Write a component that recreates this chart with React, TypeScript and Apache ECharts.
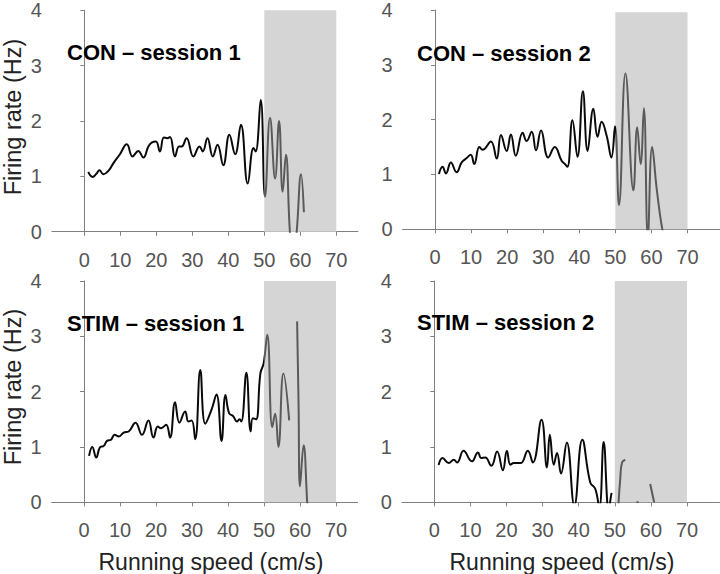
import React, { useEffect, useRef } from "react";
import * as echarts from "echarts";

// ---- data ----
const speedTicks = [0, 10, 20, 30, 40, 50, 60, 70];
const rateTicks = [0, 1, 2, 3, 4];
const highSpeedBand = [50, 70];
const panelTitles = ["CON – session 1", "CON – session 2", "STIM – session 1", "STIM – session 2"];

const con1Speed = [1.1, 2.3, 3.4, 4.2, 5.3, 6.7, 8.1, 9.9, 11.8, 13.4, 15.0, 16.4, 17.8, 18.7, 19.9, 21.0, 22.1, 23.1, 23.8, 25.2, 26.3, 27.05, 28.4, 30.3, 32.0, 32.9, 34.2, 35.7, 37.0, 38.6, 40.3, 41.9, 43.5, 45.4, 47.0, 47.6, 49.0, 50.2, 51.6, 53.0, 54.1, 55.1, 56.0, 57.1, 58.0, 59.0, 60.2, 61.0];
const con1Rate = [1.08, 0.99, 1.05, 1.11, 1.04, 1.10, 1.24, 1.40, 1.58, 1.36, 1.46, 1.34, 1.54, 1.61, 1.63, 1.45, 1.70, 1.69, 1.71, 1.36, 1.54, 1.54, 1.69, 1.36, 1.54, 1.45, 1.69, 1.36, 1.57, 1.20, 1.75, 1.40, 1.93, 0.87, 1.51, 1.45, 2.38, 0.63, 2.06, 0.96, 2.00, 0.72, 1.39, 0.0, -0.6, 0.0, 1.04, 0.35];

const con2Speed = [1.1, 2.1, 3.05, 4.4, 6.0, 7.4, 8.8, 9.9, 10.9, 12.3, 13.2, 15.5, 17.1, 18.3, 19.85, 21.05, 22.4, 24.3, 25.4, 26.8, 28.0, 29.4, 31.4, 33.2, 35.1, 36.0, 36.7, 38.1, 39.5, 41.0, 42.3, 43.9, 45.06, 46.2, 47.6, 48.9, 49.9, 51.0, 52.8, 55.0, 56.05, 57.0, 57.9, 59.0, 60.2, 61.4, 62.4, 63.1];
const con2Rate = [1.01, 1.14, 1.02, 1.22, 1.04, 1.22, 1.30, 1.36, 1.19, 1.50, 1.45, 1.60, 1.29, 1.72, 1.43, 1.73, 1.34, 1.76, 1.61, 1.78, 1.44, 1.80, 1.31, 1.50, 1.25, 1.19, 1.14, 1.99, 1.32, 2.52, 1.43, 2.20, 1.69, 1.96, 1.70, 1.31, 1.88, 0.44, 2.84, 0.71, 1.86, 1.19, 2.21, -0.12, 1.50, 0.77, 0.25, -0.03];

const stim1Speed = [1.4, 2.3, 3.4, 4.4, 5.5, 6.4, 7.5, 8.5, 9.7, 11.0, 12.4, 14.3, 16.1, 17.9, 19.3, 20.5, 21.4, 22.8, 23.9, 25.3, 26.5, 28.1, 29.0, 29.9, 30.9, 32.3, 33.7, 35.4, 36.8, 38.2, 39.3, 40.3, 41.4, 42.5, 43.2, 43.7, 45.1, 46.3, 46.9, 47.8, 49.0, 49.9, 50.9, 52.3, 53.1, 54.0, 55.4, 57.0, 58.1, 59.2, 59.6, 60.0, 61.0, 62.0, 62.3];
const stim1Rate = [0.84, 1.00, 0.81, 0.99, 1.02, 1.11, 1.13, 1.22, 1.19, 1.26, 1.28, 1.44, 1.22, 1.48, 1.17, 1.37, 1.34, 1.40, 1.17, 1.81, 1.44, 1.64, 1.46, 1.48, 1.14, 2.39, 1.42, 1.67, 1.95, 1.11, 1.94, 1.61, 1.56, 1.46, 1.50, 1.46, 2.34, 1.28, 1.52, 1.50, 2.33, 2.51, 3.03, 1.36, 1.60, 1.00, 2.33, 1.48, null, 3.27, 1.78, 0.29, 1.03, 0.0, -0.3];

const stim2Speed = [1.2, 2.3, 4.0, 5.4, 6.3, 8.1, 10.4, 12.1, 13.0, 14.1, 15.8, 17.4, 19.0, 20.1, 21.1, 22.0, 23.0, 24.0, 25.9, 27.3, 29.7, 31.2, 32.0, 33.1, 34.0, 35.1, 36.7, 38.8, 41.0, 43.2, 44.6, 45.7, 46.9, 47.9, 48.3, 48.7, 49.1, 50.0, 51.0, 51.5, 52.0, 52.9, 54.5, 56.0, 56.6, 58.0, 59.8, 60.9];
const stim2Rate = [0.675, 0.80, 0.71, 0.77, 0.72, 0.93, 0.74, 0.90, 0.80, 0.81, 0.66, 0.92, 0.58, 0.93, 0.68, 0.71, 0.71, 0.71, 0.93, 0.72, 1.49, 0.63, 1.22, 0.68, 0.89, 0.52, 1.08, -0.06, 1.13, 0.36, 0.24, -0.1, 1.09, 0.0, -0.3, 0.0, 0.17, null, -0.05, 0.42, 0.72, 0.77, null, 0.0, 0.0, null, 0.33, 0.0];

const panels = [
  { speed: con1Speed, rate: con1Rate, xMax: 76, bandTop: 4 },
  { speed: con2Speed, rate: con2Rate, xMax: 79, bandTop: 3.96 },
  { speed: stim1Speed, rate: stim1Rate, xMax: 76, bandTop: 4 },
  { speed: stim2Speed, rate: stim2Rate, xMax: 79, bandTop: 4 },
];
const X_MIN = -9;

// ---- layout ----
const gridBoxes = [
  { left: 51.9, top: 10.3, width: 306, height: 221.4 },
  { left: 402.5, top: 8, width: 317.7, height: 221.3 },
  { left: 51.6, top: 281, width: 306, height: 221.3 },
  { left: 401.8, top: 281, width: 317.7, height: 221.3 },
];
const titlePos = [
  [67, 52],
  [417, 53],
  [67, 323],
  [417, 322],
];

const FONT = "'Liberation Sans', Arial, sans-serif";
const AXIS_GREY = "#808080";
const LABEL_GREY = "#555555";
const LOW_COLOR = "#0a0a0a";
const HIGH_COLOR = "#5a5a5a";

export default function App() {
  const ref = useRef<HTMLDivElement>(null);
  useEffect(() => {
    if (!ref.current) return;
    const chart = echarts.init(ref.current, undefined, { renderer: "svg" });

    const grid = gridBoxes.map((g) => ({ ...g, containLabel: false }));
    const xAxis = panels.map((p, i) => ({
      type: "value",
      gridIndex: i,
      min: X_MIN,
      max: p.xMax,
      splitLine: { show: false },
      axisLine: { show: true, onZero: false, lineStyle: { color: AXIS_GREY, width: 1 } },
      axisTick: { show: true, length: 4, customValues: speedTicks, lineStyle: { color: AXIS_GREY } },
      axisLabel: {
        show: true,
        customValues: speedTicks,
        fontSize: 20,
        color: LABEL_GREY,
        fontFamily: FONT,
        margin: 18,
      },
    }));
    const yAxis = panels.map((_, i) => ({
      type: "value",
      gridIndex: i,
      min: 0,
      max: 4,
      interval: 1,
      splitLine: { show: false },
      axisLine: { show: true, lineStyle: { color: AXIS_GREY, width: 1 } },
      axisTick: { show: true, length: 4, lineStyle: { color: AXIS_GREY } },
      axisLabel: {
        fontSize: 20,
        color: LABEL_GREY,
        fontFamily: FONT,
        margin: 10,
        customValues: rateTicks,
      },
    }));

    const series = panels.map((p, i) => {
      const g = gridBoxes[i];
      const frac = (highSpeedBand[0] - X_MIN) / (p.xMax - X_MIN);
      const color = {
        type: "linear",
        x: g.left,
        y: 0,
        x2: g.left + g.width,
        y2: 0,
        global: true,
        colorStops: [
          { offset: 0, color: LOW_COLOR },
          { offset: frac, color: LOW_COLOR },
          { offset: frac, color: HIGH_COLOR },
          { offset: 1, color: HIGH_COLOR },
        ],
      };
      return {
        type: "line",
        xAxisIndex: i,
        yAxisIndex: i,
        smooth: 0.45,
        showSymbol: false,
        symbol: "none",
        clip: true,
        connectNulls: false,
        lineStyle: { width: 2, color },
        itemStyle: { color: LOW_COLOR },
        data: p.speed.map((s, k) => [s, p.rate[k] === null ? "-" : p.rate[k]]),
        markArea: {
          silent: true,
          itemStyle: { color: "#d5d5d5" },
          data: [[{ coord: [highSpeedBand[0], 0] }, { coord: [highSpeedBand[1], p.bandTop] }]],
        },
        z: 3,
      };
    });

    const graphic: any[] = [];
    panelTitles.forEach((t, i) => {
      graphic.push({
        type: "text",
        x: titlePos[i][0],
        y: titlePos[i][1],
        style: {
          text: t,
          fontFamily: FONT,
          fontWeight: "bold",
          fontSize: 22,
          fill: "#000",
          verticalAlign: "middle",
          align: "left",
        },
        z: 10,
      });
    });
    [117, 387].forEach((cy) => {
      graphic.push({
        type: "text",
        x: 13,
        y: cy,
        rotation: Math.PI / 2,
        style: {
          text: "Firing rate (Hz)",
          fontFamily: FONT,
          fontSize: 23.5,
          fill: "#222",
          align: "center",
          verticalAlign: "middle",
        },
      });
    });
    [211, 562].forEach((cx) => {
      graphic.push({
        type: "text",
        x: cx,
        y: 562,
        style: {
          text: "Running speed (cm/s)",
          fontFamily: FONT,
          fontSize: 23,
          fill: "#222",
          align: "center",
          verticalAlign: "middle",
        },
      });
    });

    chart.setOption({
      animation: false,
      backgroundColor: "#ffffff",
      grid,
      xAxis,
      yAxis,
      series,
      graphic,
    });
    return () => chart.dispose();
  }, []);

  return (
    <div
      ref={ref}
      style={{ position: "fixed", left: 0, top: 0, width: 720, height: 574 }}
    />
  );
}
